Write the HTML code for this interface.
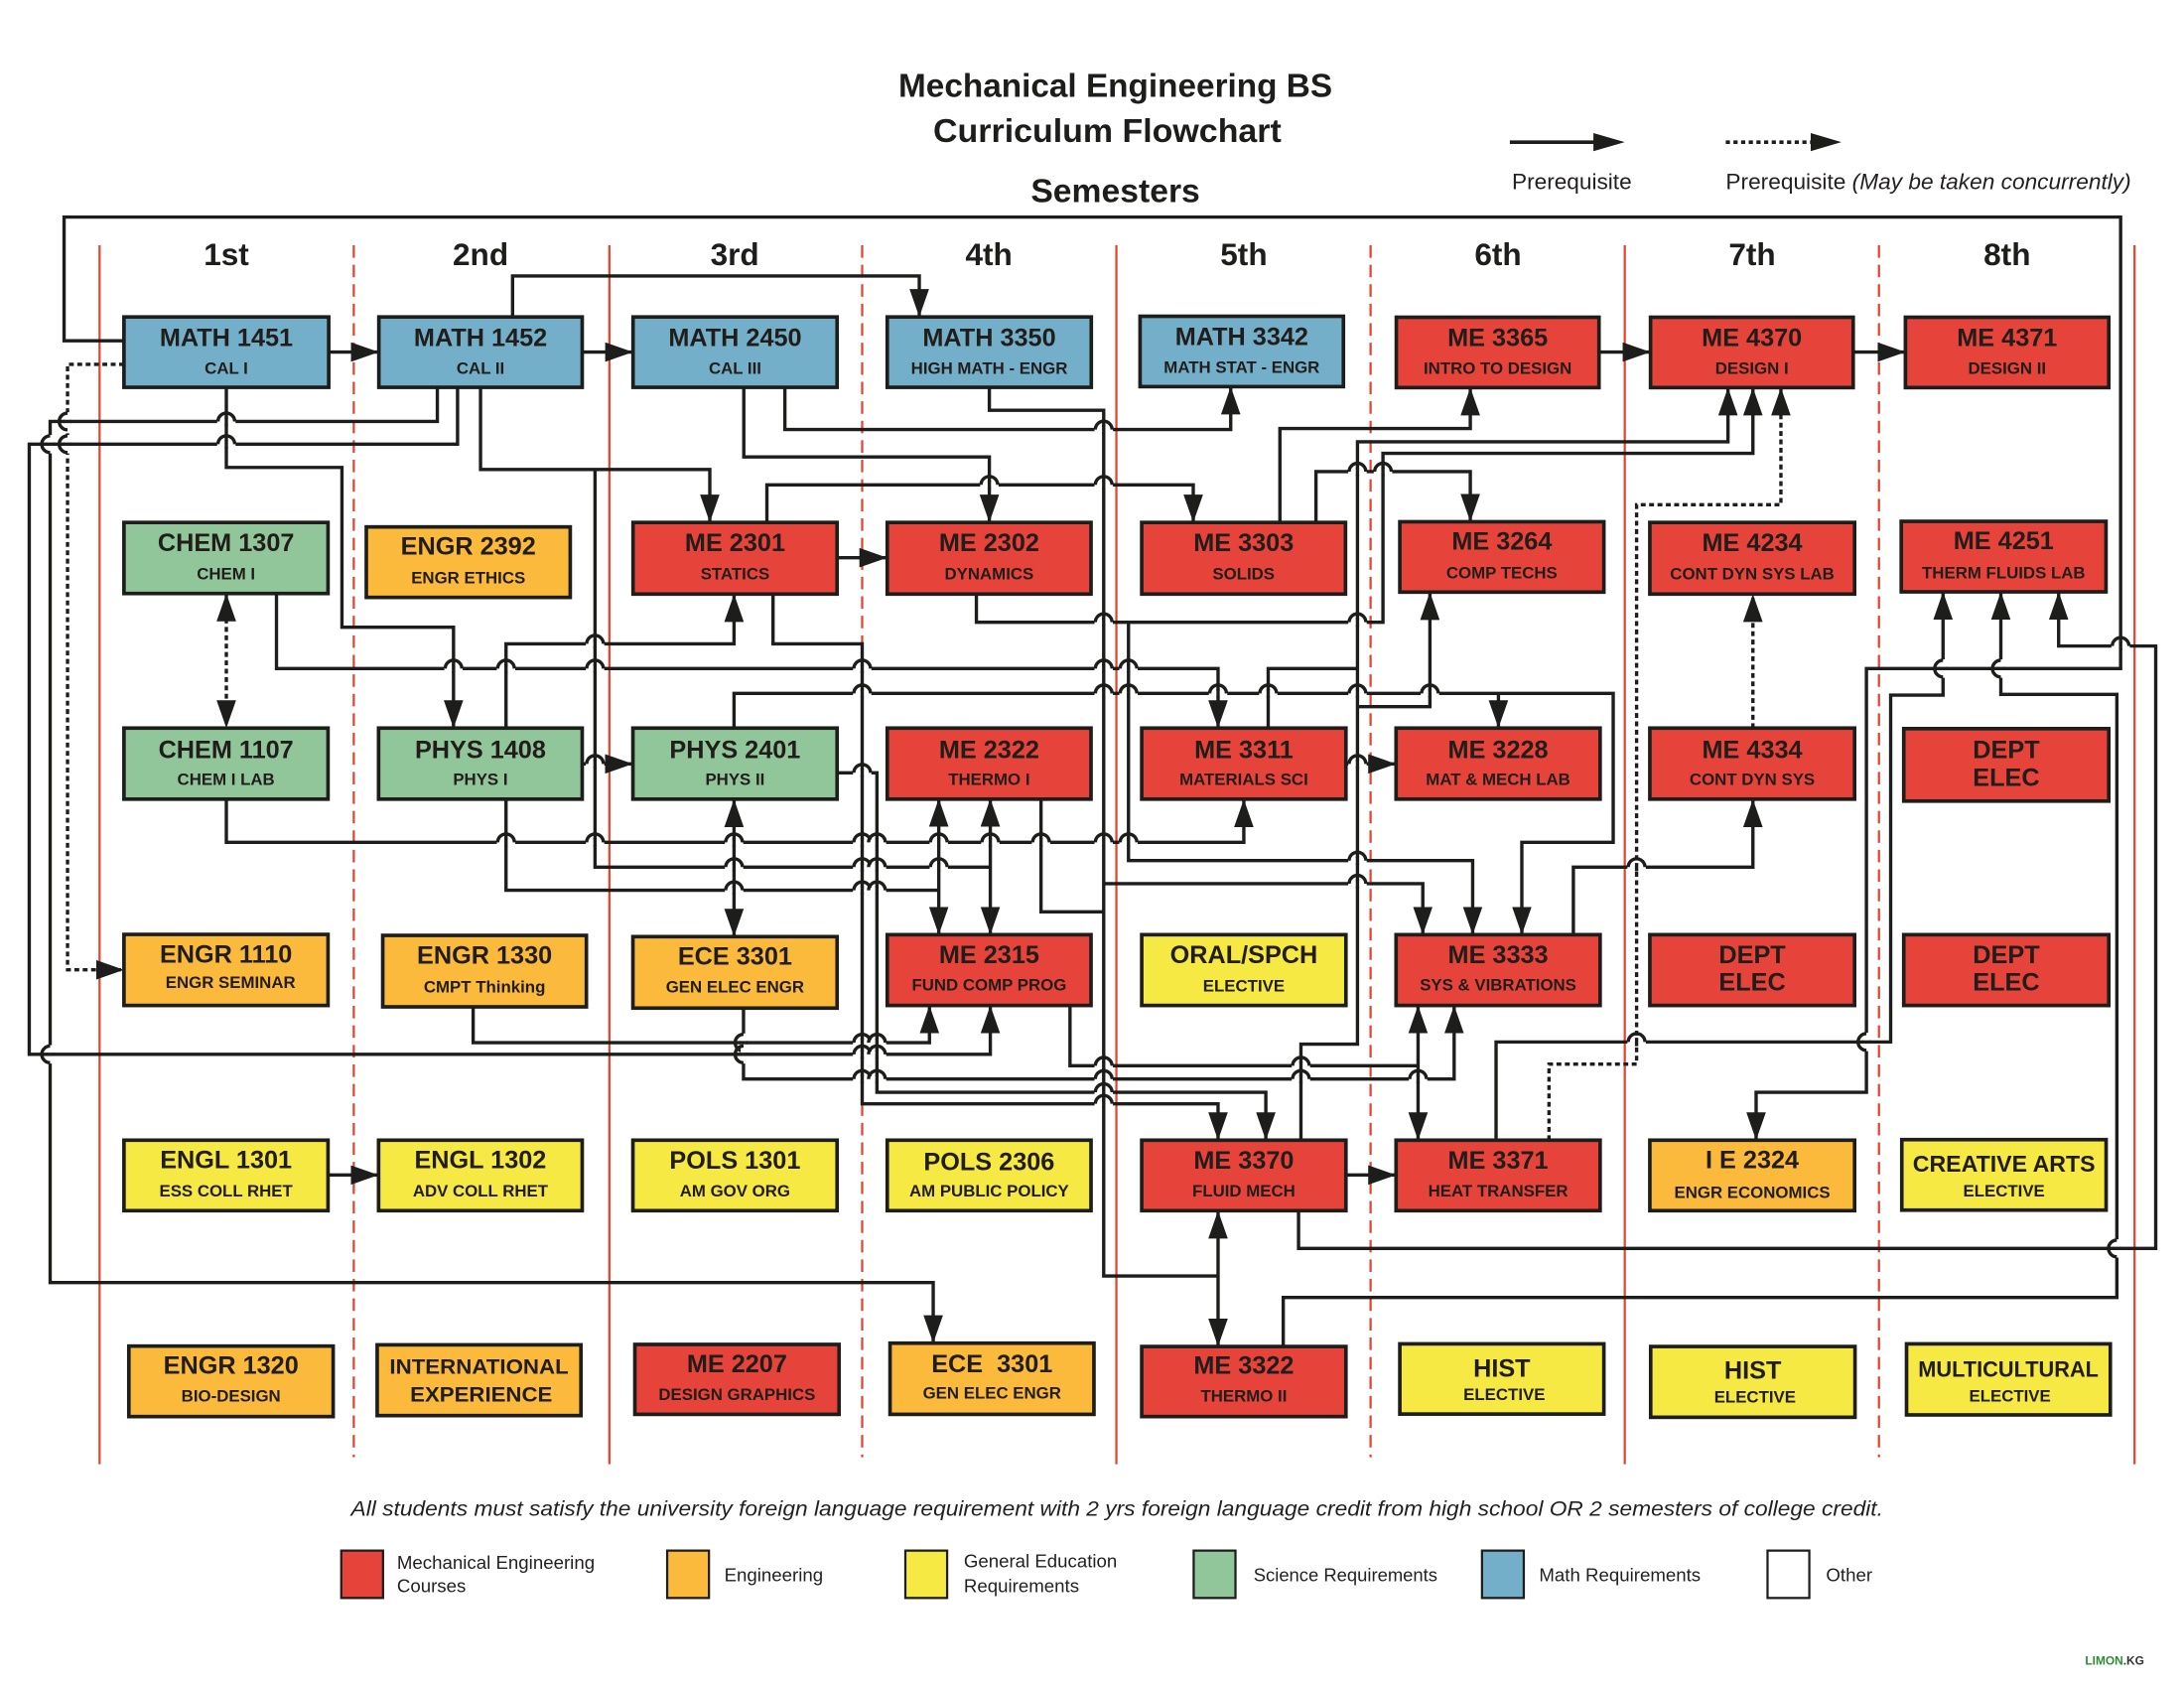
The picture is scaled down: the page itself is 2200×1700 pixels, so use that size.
<!DOCTYPE html>
<html><head><meta charset="utf-8"><style>
html,body{margin:0;padding:0;background:#fff;}
svg{display:block}
</style></head><body>
<svg xmlns="http://www.w3.org/2000/svg" width="2200" height="1700" viewBox="0 0 1568 1211.6" font-family="'Liberation Sans', Arial, sans-serif">
<defs>
<marker id="a" markerUnits="userSpaceOnUse" markerWidth="20" markerHeight="14" refX="20" refY="7" orient="auto"><path d="M0,0L20,7L0,14z" fill="#1d1d1b"/></marker>
<marker id="b" markerUnits="userSpaceOnUse" markerWidth="20" markerHeight="14" refX="20" refY="7" orient="auto-start-reverse"><path d="M0,0L20,7L0,14z" fill="#1d1d1b"/></marker>
<g id="h"><rect x="-6.6" y="-2" width="13.2" height="4" fill="#fff"/><path d="M0,-3V3M-6,0A6,6 0 0 1 6,0" fill="none" stroke="#1d1d1b" stroke-width="2.4"/></g>
<g id="v"><rect x="-2" y="-6.6" width="4" height="13.2" fill="#fff"/><path d="M-3,0H3M0,-6A6,6 0 0 0 0,6" fill="none" stroke="#1d1d1b" stroke-width="2.4"/></g>
</defs>
<style>
.bx{stroke:#1d1d1b;stroke-width:2.6}
.m{fill:#73afc8}.g{fill:#91c69a}.e{fill:#e6433a}.o{fill:#fbba3b}.y{fill:#f6e944}.w{fill:#fff}
.t{font-weight:bold;font-size:18px;fill:#211d1a;text-anchor:middle}
.s{font-weight:bold;font-size:12px;fill:#211d1a;text-anchor:middle}
.ln{fill:none;stroke:#1d1d1b;stroke-width:2.4}
.ar{marker-end:url(#a)}
.bi{marker-start:url(#b);marker-end:url(#b)}
.dt{stroke-dasharray:3.5 2.5}
.rl{stroke:#e6432f;stroke-width:1.6}
.rd{stroke-dasharray:9 5}
.lg{font-size:13.3px;fill:#231f20}
</style>
<rect x="0" y="0" width="1568" height="1211.6" fill="#fff"/>

<!-- Titles -->
<text x="800.8" y="69.6" font-size="23.5" font-weight="bold" fill="#1d1d1b" text-anchor="middle" textLength="311.5" lengthAdjust="spacingAndGlyphs">Mechanical Engineering BS</text>
<text x="795" y="102" font-size="23.5" font-weight="bold" fill="#1d1d1b" text-anchor="middle" textLength="250" lengthAdjust="spacingAndGlyphs">Curriculum Flowchart</text>
<text x="800.8" y="145.1" font-size="23.5" font-weight="bold" fill="#1d1d1b" text-anchor="middle" textLength="121.5" lengthAdjust="spacingAndGlyphs">Semesters</text>

<!-- Top legend -->
<line x1="1084" y1="102" x2="1146" y2="102" stroke="#1d1d1b" stroke-width="2.6"/>
<path d="M1144,95.5L1166.5,102L1144,108.5z" fill="#1d1d1b"/>
<line x1="1239" y1="102" x2="1302" y2="102" stroke="#1d1d1b" stroke-width="2.6" stroke-dasharray="3 2.5"/>
<path d="M1300,95.5L1322,102L1300,108.5z" fill="#1d1d1b"/>
<text x="1085.5" y="135.8" font-size="15.5" fill="#231f20" textLength="86" lengthAdjust="spacingAndGlyphs">Prerequisite</text>
<text x="1239" y="135.8" font-size="15.5" fill="#231f20" textLength="291" lengthAdjust="spacingAndGlyphs">Prerequisite <tspan font-style="italic">(May be taken concurrently)</tspan></text>

<!-- Semester labels -->
<g font-size="22.5" font-weight="bold" fill="#1d1d1b" text-anchor="middle">
<text x="162.5" y="190.2">1st</text>
<text x="345" y="190.2">2nd</text>
<text x="527.5" y="190.2">3rd</text>
<text x="710" y="190.2">4th</text>
<text x="893" y="190.2">5th</text>
<text x="1075.5" y="190.2">6th</text>
<text x="1258" y="190.2">7th</text>
<text x="1441" y="190.2">8th</text>
</g>

<!-- Column lines -->
<g class="rl">
<line x1="71.5" y1="176" x2="71.5" y2="1051"/>
<line x1="437.5" y1="176" x2="437.5" y2="1051"/>
<line x1="801.5" y1="176" x2="801.5" y2="1051"/>
<line x1="1166.5" y1="176" x2="1166.5" y2="1051"/>
<line x1="1532.5" y1="176" x2="1532.5" y2="1051"/>
</g>
<g class="rl rd">
<line x1="254" y1="176" x2="254" y2="1046"/>
<line x1="619" y1="176" x2="619" y2="1046"/>
<line x1="984" y1="176" x2="984" y2="1046"/>
<line x1="1349" y1="176" x2="1349" y2="1046"/>
</g>

<!-- Connectors -->
<g class="ln">
<path class="ar" d="M236,252.7H272"/>
<path class="ar" d="M418,252.7H454.5"/>
<path class="ar" d="M1148,252.7H1185"/>
<path class="ar" d="M1330.5,252.7H1368"/>
<path class="ar" d="M601,400.3H637"/>
<path class="ar" d="M418,548.3H454.4"/>
<path class="ar" d="M966.3,548.3H1002.3"/>
<path class="ar" d="M235.5,843.4H271.8"/>
<path class="ar" d="M966.3,843.4H1002.3"/>
<path class="ar" d="M89,244.6H46V155.8H1522.5V479.9H1340V784H1260.8V818.4"/>
<path class="ar dt" d="M89,261.5H48.5V696.1H89"/>
<path class="ar" d="M368,227.5V198.1H660V227.5"/>
<path class="ar" d="M162.5,278V335.5H245.5V450.2H325.6V522.6"/>
<path class="ar" d="M314,278V302.5H36V920.6H670V964.1"/>
<path class="ar" d="M328.5,278V318.8H21V756.8H711V721.7"/>
<path class="ar" d="M345,278V337H509.6V375"/>
<path d="M427.2,337V622.4H711"/>
<path class="ar" d="M563.5,278V308.3H883.6V277.5"/>
<path class="ar" d="M534,278V328H710.3V375"/>
<path d="M710.3,278V294.5H792.4V915.9H874.5"/>
<path class="ar" d="M792.4,634.3H1021.5V670.9"/>
<path class="bi" d="M874.5,869V966.5"/>
<path class="ar" d="M550.6,375V348H856.7V375"/>
<path class="ar" d="M555,426.4V462.1H619V792.3H874.5V818.4"/>
<path class="ar" d="M363.3,522.6V462.1H527V426.4"/>
<path class="ar" d="M198.5,426V479.9H874.5V522.6"/>
<path class="ar" d="M527,522.6V497.7H1158.2V604.6H1092.6V670.9"/>
<path class="ar" d="M1075.8,497.7V522.6"/>
<path class="bi dt" d="M162.5,426V522.6"/>
<path class="bi" d="M527,573.7V672.3"/>
<path class="bi" d="M674,573.3V670.9"/>
<path class="bi" d="M711,573.3V670.9"/>
<path class="ar" d="M162.5,573.7V604.6H893V573.7"/>
<path d="M363.3,573.7V639H674"/>
<path class="ar" d="M601,554.7H629.6V784H908.8V818.4"/>
<path d="M747.4,573.3V654.5H792.4"/>
<path class="ar" d="M701,426.4V446.6H992.9V325.4H1258.5V278.2"/>
<path class="ar" d="M810.2,446.6V617.7H1057.3V670.9"/>
<path class="ar" d="M918.9,375V307.6H1055.6V278.2"/>
<path class="ar" d="M944.8,375V338.5H1055.6V374.5"/>
<path d="M910.5,522.6V479.9H974.6"/>
<path class="ar" d="M934,818.4V749.5H974.6V317.1H1240.6V278.2"/>
<path class="ar" d="M974.6,507.2H1026.6V425"/>
<path class="ar" d="M1129.6,670.9V622.4H1258.5V573.7"/>
<path class="ar dt" d="M1258.5,522.6V426.4"/>
<path class="ar dt" d="M1112.1,818.4V763.8H1175V362.3H1278.6V278.2"/>
<path class="ar" d="M1074.1,818.4V747.9H1357.4V498.9H1395V424.8"/>
<path class="ar" d="M921.3,966.5V931.3H1519.8V498.4H1436.5V424.8"/>
<path class="ar" d="M932.3,869V896.1H1547.7V463.7H1478V424.8"/>
<path class="ar" d="M339.7,722.7V748.4H667.3V721.7"/>
<path class="ar" d="M533.8,723.6V774.5H1044V721.7"/>
<path d="M768.2,721.7V765H1018.1"/>
<path class="bi" d="M1018.1,721.7V818.4"/>
</g>

<!-- Hops (horizontal line jumping over vertical) -->
<use href="#h" x="162.5" y="302.5"/><use href="#h" x="162.5" y="318.8"/>
<use href="#h" x="325.6" y="479.9"/><use href="#h" x="363.3" y="479.9"/><use href="#h" x="427.2" y="479.9"/>
<use href="#h" x="427.2" y="462.1"/>
<use href="#h" x="710.3" y="348"/><use href="#h" x="792.4" y="348"/>
<use href="#h" x="792.4" y="308.3"/>
<use href="#h" x="619" y="479.9"/><use href="#h" x="792.4" y="479.9"/><use href="#h" x="810.2" y="479.9"/>
<use href="#h" x="619" y="497.7"/><use href="#h" x="792.4" y="497.7"/><use href="#h" x="810.2" y="497.7"/><use href="#h" x="874.5" y="497.7"/><use href="#h" x="910.5" y="497.7"/><use href="#h" x="974.6" y="497.7"/><use href="#h" x="1026.6" y="497.7"/>
<use href="#h" x="792.4" y="446.6"/><use href="#h" x="974.6" y="446.6"/>
<use href="#h" x="974.6" y="338.5"/><use href="#h" x="992.9" y="338.5"/>
<use href="#h" x="427.2" y="548.3"/><use href="#h" x="619" y="554.7"/>
<use href="#h" x="974.6" y="548.3"/>
<use href="#h" x="363.3" y="604.6"/><use href="#h" x="427.2" y="604.6"/><use href="#h" x="527" y="604.6"/><use href="#h" x="619" y="604.6"/><use href="#h" x="629.6" y="604.6"/><use href="#h" x="674" y="604.6"/><use href="#h" x="711" y="604.6"/><use href="#h" x="747.4" y="604.6"/><use href="#h" x="792.4" y="604.6"/><use href="#h" x="810.2" y="604.6"/>
<use href="#h" x="527" y="622.4"/><use href="#h" x="619" y="622.4"/><use href="#h" x="629.6" y="622.4"/><use href="#h" x="674" y="622.4"/>
<use href="#h" x="527" y="639"/><use href="#h" x="619" y="639"/><use href="#h" x="629.6" y="639"/>
<use href="#h" x="974.6" y="617.7"/><use href="#h" x="974.6" y="634.3"/>
<use href="#h" x="1175" y="622.4"/>
<use href="#h" x="619" y="748.4"/><use href="#h" x="629.6" y="748.4"/>
<use href="#h" x="619" y="756.8"/><use href="#h" x="629.6" y="756.8"/>
<use href="#h" x="792.4" y="765"/><use href="#h" x="934" y="765"/>
<use href="#h" x="619" y="774.5"/><use href="#h" x="629.6" y="774.5"/><use href="#h" x="792.4" y="774.5"/><use href="#h" x="934" y="774.5"/><use href="#h" x="1018.1" y="774.5"/>
<use href="#h" x="792.4" y="784"/><use href="#h" x="792.4" y="792.3"/>
<use href="#h" x="1175" y="747.9"/>
<use href="#h" x="1522.5" y="463.7"/>
<!-- Hops (vertical line jumping over horizontal) -->
<use href="#v" x="36" y="318.8"/><use href="#v" x="36" y="756.8"/>
<use href="#v" x="48.5" y="302.5"/><use href="#v" x="48.5" y="318.8"/>
<use href="#v" x="533.8" y="748.4"/><use href="#v" x="533.8" y="756.8"/>
<use href="#v" x="1340" y="747.9"/>
<use href="#v" x="1395" y="479.9"/><use href="#v" x="1436.5" y="479.9"/>
<use href="#v" x="1519.8" y="896.1"/>

<!-- Row 1 -->
<rect class="bx m" x="89" y="227.5" width="147" height="50.5"/>
<text class="t" x="162.5" y="248.5">MATH 1451</text><text class="s" x="162.5" y="268.2">CAL I</text>
<rect class="bx m" x="272" y="227.5" width="146" height="50.5"/>
<text class="t" x="345" y="248.5">MATH 1452</text><text class="s" x="345" y="268.2">CAL II</text>
<rect class="bx m" x="454.5" y="227.5" width="146.5" height="50.5"/>
<text class="t" x="527.75" y="248.5">MATH 2450</text><text class="s" x="527.75" y="268.2">CAL III</text>
<rect class="bx m" x="637" y="227.5" width="146.5" height="50.5"/>
<text class="t" x="710.25" y="248.5">MATH 3350</text><text class="s" x="710.25" y="268.2">HIGH MATH - ENGR</text>
<rect class="bx m" x="818.5" y="227" width="146" height="50.5"/>
<text class="t" x="891.5" y="247.8">MATH 3342</text><text class="s" x="891.5" y="267.5">MATH STAT - ENGR</text>
<rect class="bx e" x="1002.5" y="227.7" width="145.5" height="50.5"/>
<text class="t" x="1075.25" y="248.5">ME 3365</text><text class="s" x="1075.25" y="268.2">INTRO TO DESIGN</text>
<rect class="bx e" x="1185" y="227.7" width="145.5" height="50.5"/>
<text class="t" x="1257.75" y="248.5">ME 4370</text><text class="s" x="1257.75" y="268.2">DESIGN I</text>
<rect class="bx e" x="1368" y="227.7" width="146" height="50.5"/>
<text class="t" x="1441" y="248.5">ME 4371</text><text class="s" x="1441" y="268.2">DESIGN II</text>

<!-- Row 2 -->
<rect class="bx g" x="89" y="375" width="146.5" height="51"/>
<text class="t" x="162.25" y="395.5">CHEM 1307</text><text class="s" x="162.25" y="415.7">CHEM I</text>
<rect class="bx o" x="263" y="378.2" width="146.4" height="50.6"/>
<text class="t" x="336.2" y="397.9">ENGR 2392</text><text class="s" x="336.2" y="418.6">ENGR ETHICS</text>
<rect class="bx e" x="454.5" y="375" width="146.5" height="51.4"/>
<text class="t" x="527.75" y="395.5">ME 2301</text><text class="s" x="527.75" y="415.7">STATICS</text>
<rect class="bx e" x="637" y="375" width="146.3" height="51.4"/>
<text class="t" x="710.15" y="395.5">ME 2302</text><text class="s" x="710.15" y="415.7">DYNAMICS</text>
<rect class="bx e" x="819.7" y="375" width="146.3" height="51.4"/>
<text class="t" x="892.85" y="395.5">ME 3303</text><text class="s" x="892.85" y="415.7">SOLIDS</text>
<rect class="bx e" x="1005" y="374.5" width="146.5" height="50.5"/>
<text class="t" x="1078.25" y="394.5">ME 3264</text><text class="s" x="1078.25" y="415">COMP TECHS</text>
<rect class="bx e" x="1184.5" y="375" width="147" height="51.4"/>
<text class="t" x="1258" y="395.5">ME 4234</text><text class="s" x="1258" y="415.7">CONT DYN SYS LAB</text>
<rect class="bx e" x="1365" y="374.2" width="147" height="50.6"/>
<text class="t" x="1438.5" y="394">ME 4251</text><text class="s" x="1438.5" y="415.2">THERM FLUIDS LAB</text>

<!-- Row 3 -->
<rect class="bx g" x="89" y="522.6" width="146.5" height="51"/>
<text class="t" x="162.25" y="544">CHEM 1107</text><text class="s" x="162.25" y="563.5">CHEM I LAB</text>
<rect class="bx g" x="271.8" y="522.6" width="146.2" height="51"/>
<text class="t" x="344.9" y="544">PHYS 1408</text><text class="s" x="344.9" y="563.5">PHYS I</text>
<rect class="bx g" x="454.4" y="522.6" width="146.6" height="51"/>
<text class="t" x="527.7" y="544">PHYS 2401</text><text class="s" x="527.7" y="563.5">PHYS II</text>
<rect class="bx e" x="637" y="522.6" width="146.3" height="51"/>
<text class="t" x="710.15" y="544">ME 2322</text><text class="s" x="710.15" y="563.5">THERMO I</text>
<rect class="bx e" x="819.7" y="522.6" width="146.6" height="51"/>
<text class="t" x="893" y="544">ME 3311</text><text class="s" x="893" y="563.5">MATERIALS SCI</text>
<rect class="bx e" x="1002.3" y="522.6" width="146.5" height="51"/>
<text class="t" x="1075.55" y="544">ME 3228</text><text class="s" x="1075.55" y="563.5">MAT &amp; MECH LAB</text>
<rect class="bx e" x="1184.5" y="522.6" width="147" height="51"/>
<text class="t" x="1258" y="544">ME 4334</text><text class="s" x="1258" y="563.5">CONT DYN SYS</text>
<rect class="bx e" x="1366.8" y="523" width="147.2" height="52"/>
<text class="t" x="1440.4" y="544">DEPT</text><text class="t" x="1440.4" y="564.2">ELEC</text>

<!-- Row 4 -->
<rect class="bx o" x="89" y="670.7" width="146.5" height="51"/>
<text class="t" x="162.25" y="690.9">ENGR 1110</text><text class="s" x="165.5" y="709.2">ENGR SEMINAR</text>
<rect class="bx o" x="274.8" y="671.4" width="146.2" height="51.3"/>
<text class="t" x="347.9" y="691.8">ENGR 1330</text><text class="s" x="347.9" y="712.2">CMPT Thinking</text>
<rect class="bx o" x="454.4" y="672.3" width="146.6" height="51.3"/>
<text class="t" x="527.7" y="692.5">ECE 3301</text><text class="s" x="527.7" y="712.5">GEN ELEC ENGR</text>
<rect class="bx e" x="637" y="670.9" width="146.3" height="50.8"/>
<text class="t" x="710.15" y="691.3">ME 2315</text><text class="s" x="710.15" y="711">FUND COMP PROG</text>
<rect class="bx y" x="819.7" y="670.9" width="146.6" height="50.8"/>
<text class="t" x="893" y="691.3">ORAL/SPCH</text><text class="s" x="893" y="711.5">ELECTIVE</text>
<rect class="bx e" x="1002.3" y="670.9" width="146.5" height="50.8"/>
<text class="t" x="1075.55" y="691.3">ME 3333</text><text class="s" x="1075.55" y="711">SYS &amp; VIBRATIONS</text>
<rect class="bx e" x="1184.5" y="670.9" width="147" height="50.8"/>
<text class="t" x="1258" y="691.3">DEPT</text><text class="t" x="1258" y="710.8">ELEC</text>
<rect class="bx e" x="1366.8" y="670.9" width="147.2" height="50.8"/>
<text class="t" x="1440.4" y="691.3">DEPT</text><text class="t" x="1440.4" y="710.8">ELEC</text>

<!-- Row 5 -->
<rect class="bx y" x="89" y="818.4" width="146.5" height="50.6"/>
<text class="t" x="162.25" y="838.6">ENGL 1301</text><text class="s" x="162.25" y="858.8">ESS COLL RHET</text>
<rect class="bx y" x="271.8" y="818.4" width="146.2" height="50.6"/>
<text class="t" x="344.9" y="838.6">ENGL 1302</text><text class="s" x="344.9" y="858.8">ADV COLL RHET</text>
<rect class="bx y" x="454.4" y="818.4" width="146.6" height="50.6"/>
<text class="t" x="527.7" y="839">POLS 1301</text><text class="s" x="527.7" y="858.8">AM GOV ORG</text>
<rect class="bx y" x="637" y="818.4" width="146.3" height="50.6"/>
<text class="t" x="710.15" y="839.8">POLS 2306</text><text class="s" x="710.15" y="858.8">AM PUBLIC POLICY</text>
<rect class="bx e" x="819.7" y="818.4" width="146.6" height="50.6"/>
<text class="t" x="893" y="839">ME 3370</text><text class="s" x="893" y="858.8">FLUID MECH</text>
<rect class="bx e" x="1002.3" y="818.4" width="146.5" height="50.6"/>
<text class="t" x="1075.55" y="839">ME 3371</text><text class="s" x="1075.55" y="858.8">HEAT TRANSFER</text>
<rect class="bx o" x="1184.5" y="818.4" width="147" height="50.6"/>
<text class="t" x="1258" y="838.6">I E 2324</text><text class="s" x="1258" y="860">ENGR ECONOMICS</text>
<rect class="bx y" x="1365.4" y="818" width="146.7" height="50.6"/>
<text class="t" x="1438.75" y="841" style="font-size:16.3px" textLength="131" lengthAdjust="spacingAndGlyphs">CREATIVE ARTS</text><text class="s" x="1438.75" y="858.8">ELECTIVE</text>

<!-- Row 6 -->
<rect class="bx o" x="92.5" y="966.2" width="146.7" height="50.6"/>
<text class="t" x="165.85" y="986">ENGR 1320</text><text class="s" x="165.85" y="1006">BIO-DESIGN</text>
<rect class="bx o" x="270.8" y="965.3" width="146.3" height="50.8"/>
<text class="t" x="343.95" y="986" style="font-size:15.4px" textLength="128.5" lengthAdjust="spacingAndGlyphs">INTERNATIONAL</text><text class="t" x="345.5" y="1006" style="font-size:15.4px" textLength="102" lengthAdjust="spacingAndGlyphs">EXPERIENCE</text>
<rect class="bx e" x="455.8" y="965" width="146.6" height="50.2"/>
<text class="t" x="529.1" y="984.8">ME 2207</text><text class="s" x="529.1" y="1005">DESIGN GRAPHICS</text>
<rect class="bx o" x="639" y="964.1" width="146.4" height="51.1"/>
<text class="t" x="712.2" y="984.8">ECE&#160; 3301</text><text class="s" x="712.2" y="1003.8">GEN ELEC ENGR</text>
<rect class="bx e" x="819.7" y="966.5" width="146.6" height="50.3"/>
<text class="t" x="893" y="986">ME 3322</text><text class="s" x="893" y="1006.1">THERMO II</text>
<rect class="bx y" x="1005" y="964.6" width="146.5" height="50.4"/>
<text class="t" x="1078.25" y="988.3">HIST</text><text class="s" x="1080" y="1005">ELECTIVE</text>
<rect class="bx y" x="1185.1" y="966.5" width="146.7" height="50.8"/>
<text class="t" x="1258.45" y="989.5">HIST</text><text class="s" x="1260" y="1006.6">ELECTIVE</text>
<rect class="bx y" x="1368.8" y="964.6" width="146.3" height="51"/>
<text class="t" x="1441.95" y="988.3" style="font-size:15.5px" textLength="129.5" lengthAdjust="spacingAndGlyphs">MULTICULTURAL</text><text class="s" x="1443" y="1006">ELECTIVE</text>

<!-- Footnote -->
<text x="802" y="1088" font-size="15" font-style="italic" fill="#231f20" text-anchor="middle" textLength="1100" lengthAdjust="spacingAndGlyphs">All students must satisfy the university foreign language requirement with 2 yrs foreign language credit from high school OR 2 semesters of college credit.</text>

<!-- Bottom legend -->
<g stroke="#1d1d1b" stroke-width="1.6">
<rect x="245" y="1113" width="30" height="34" fill="#e6433a"/>
<rect x="479" y="1113" width="30" height="34" fill="#fbba3b"/>
<rect x="650" y="1113" width="30" height="34" fill="#f6e944"/>
<rect x="857" y="1113" width="30" height="34" fill="#91c69a"/>
<rect x="1064" y="1113" width="30" height="34" fill="#73afc8"/>
<rect x="1269" y="1113" width="30" height="34" fill="#fff"/>
</g>
<text class="lg" x="285" y="1126" textLength="142" lengthAdjust="spacingAndGlyphs">Mechanical Engineering</text>
<text class="lg" x="285" y="1143">Courses</text>
<text class="lg" x="520" y="1135">Engineering</text>
<text class="lg" x="692" y="1125" textLength="110" lengthAdjust="spacingAndGlyphs">General Education</text>
<text class="lg" x="692" y="1143">Requirements</text>
<text class="lg" x="900" y="1135" textLength="132" lengthAdjust="spacingAndGlyphs">Science Requirements</text>
<text class="lg" x="1105" y="1135" textLength="116" lengthAdjust="spacingAndGlyphs">Math Requirements</text>
<text class="lg" x="1311" y="1135">Other</text>

<text x="1497" y="1195" font-size="8.5" font-weight="bold" fill="#2e8b3a">LIMON<tspan fill="#333">.KG</tspan></text>
</svg>
</body></html>
